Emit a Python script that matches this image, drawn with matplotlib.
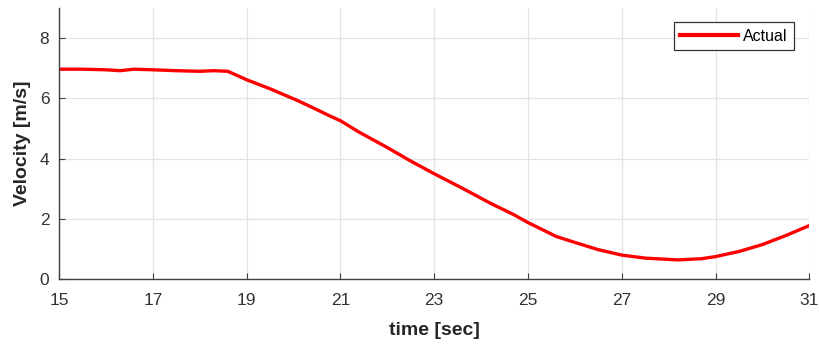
import numpy as np
import matplotlib.pyplot as plt

# values
time_s = [15.0, 15.5, 16.0, 16.3, 16.6, 17.0, 17.5, 18.0, 18.3, 18.6,
          19.0, 19.5, 20.1, 20.4, 20.8, 21.0, 21.4, 22.0, 22.5, 23.0,
          23.6, 24.2, 24.7, 25.0, 25.6, 26.0, 26.5, 27.0, 27.5, 28.2,
          28.7, 29.0, 29.5, 30.0, 30.5, 31.0]
velocity = [6.97, 6.97, 6.95, 6.92, 6.97, 6.95, 6.92, 6.90, 6.92, 6.90,
            6.62, 6.32, 5.92, 5.70, 5.40, 5.26, 4.88, 4.37, 3.92, 3.50,
            3.02, 2.52, 2.14, 1.88, 1.42, 1.22, 0.98, 0.80, 0.70, 0.64,
            0.68, 0.75, 0.92, 1.15, 1.45, 1.78]
xticks = [15, 17, 19, 21, 23, 25, 27, 29, 31]
yticks = [0, 2, 4, 6, 8]

plt.rcParams['font.family'] = ['Liberation Sans', 'DejaVu Sans']

fig = plt.figure(figsize=(8.2, 3.49), dpi=100)
ax = fig.add_axes([0.072, 0.2, 0.915, 0.777])

ax.plot(time_s, velocity, color='#ff0000', lw=2.4, label='Actual')

ax.set_xlim(15, 31)
ax.set_ylim(0, 9)
ax.set_xticks(xticks)
ax.set_yticks(yticks)
ax.grid(True, color='#e3e3e3', lw=0.9)
ax.set_axisbelow(True)

for s in ['top', 'right']:
    ax.spines[s].set_visible(False)
for s in ['left', 'bottom']:
    ax.spines[s].set_color('#404040')
    ax.spines[s].set_linewidth(1.0)
ax.tick_params(direction='in', length=4, colors='#404040', labelsize=12.5,
               labelcolor='#333333')
ax.tick_params(axis='x', pad=10)
ax.tick_params(axis='y', pad=7)

ax.set_xlabel('time [sec]', fontsize=14, fontweight='bold', color='#262626', labelpad=10)
ax.set_ylabel('Velocity [m/s]', fontsize=14, fontweight='bold', color='#262626', labelpad=6)

leg = ax.legend(loc='upper right', bbox_to_anchor=(0.979, 0.948), borderaxespad=0,
                fancybox=False, edgecolor='#333333', fontsize=11.5, handlelength=3.6,
                borderpad=0.4, handletextpad=0.3, framealpha=1)
leg.get_frame().set_linewidth(0.9)
for h in leg.get_lines():
    h.set_linewidth(3)

fig.savefig('out.png', dpi=100)
